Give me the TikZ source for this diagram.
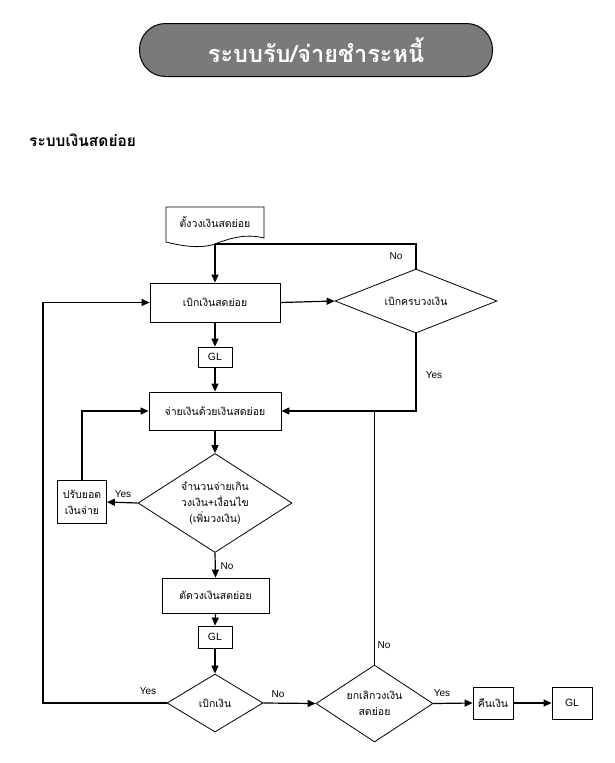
\documentclass[tikz,border=0pt]{standalone}
\usepackage{fontspec}
\setmainfont{Liberation Sans}
\newfontfamily\thai[Script=Thai]{Loma}
\usetikzlibrary{shapes.geometric,arrows.meta}
\begin{document}
\begin{tikzpicture}[x=1pt,y=-1pt,
  shp/.style={draw=black,line width=0.8pt,inner sep=1pt,align=center,font=\thai\fontsize{10.5}{16}\selectfont},
  boxn/.style={shp,rectangle},
  dia/.style={shp,diamond,inner sep=0pt},
  conn/.style={line width=1.2pt},
  arr/.style={conn,-{Triangle[length=8pt,width=7pt]}},
  lab/.style={font=\fontsize{10}{12}\selectfont,inner sep=1pt},
  glbox/.style={boxn,font=\fontsize{10.5}{12}\selectfont}]
\useasboundingbox (0,0) rectangle (614,763);
\fill[white] (0,0) rectangle (614,763);
% title
\node[draw=black,line width=1pt,fill=black!52,rounded corners=26pt,minimum width=353pt,minimum height=53pt,text=white,font=\thai\bfseries\fontsize{23.5}{28}\selectfont] (title) at (316,50) {ระบบรับ/จ่ายชำระหนี้};
\node[anchor=west,inner sep=0pt,font=\thai\bfseries\fontsize{15.5}{18}\selectfont] (sub) at (29,140) {ระบบเงินสดย่อย};
% document
\draw[line width=0.8pt] (166,207) -- (264,207) -- (264,238) .. controls (245,233) and (228,239) .. (215,244) .. controls (200,249) and (182,246) .. (166,242) -- cycle;
\node[inner sep=0pt,font=\thai\fontsize{10.5}{12}\selectfont] (doc) at (215,222) {ตั้งวงเงินสดย่อย};
\coordinate (j1) at (215,244);
% nodes
\node[boxn,minimum width=130pt,minimum height=39pt] (b1) at (215,302.5) {เบิกเงินสดย่อย};
\node[dia,shape aspect=2.5,minimum width=162pt,minimum height=64pt] (d1) at (416,301) {เบิกครบวงเงิน};
\node[glbox,minimum width=34pt,minimum height=20pt] (gl1) at (215,357) {GL};
\node[boxn,minimum width=132pt,minimum height=38pt] (b2) at (215,411) {จ่ายเงินด้วยเงินสดย่อย};
\node[dia,shape aspect=1.55,minimum width=154pt,minimum height=99pt] (d2) at (215,503) {จำนวนจ่ายเกิน\\วงเงิน+เงื่อนไข\\(เพิ่มวงเงิน)};
\node[boxn,minimum width=49pt,minimum height=43pt] (adj) at (82,502) {ปรับยอด\\เงินจ่าย};
\node[boxn,minimum width=107pt,minimum height=35pt] (b3) at (215.5,595.5) {ตัดวงเงินสดย่อย};
\node[glbox,minimum width=34pt,minimum height=22pt] (gl2) at (215,637) {GL};
\node[dia,shape aspect=1.65,minimum width=96pt,minimum height=58pt] (d3) at (215,703) {เบิกเงิน};
\node[dia,shape aspect=1.52,minimum width=117pt,minimum height=77pt] (d4) at (374.5,703.5) {ยกเลิกวงเงิน\\สดย่อย};
\node[boxn,minimum width=40pt,minimum height=32pt] (ret) at (493,703) {คืนเงิน};
\node[glbox,minimum width=40pt,minimum height=32pt] (gl3) at (572,703) {GL};
\coordinate (j2) at (374.5,411);
\coordinate (lx) at (43,703);
% connectors
\draw[arr] (j1) -- (b1.north);
\draw[conn] (d1.north) |- (j1);
\node[lab] (no1) at (396,256) {No};
\draw[arr] (b1.east) -- (d1.west);
\draw[arr] (b1.south) -- (gl1.north);
\draw[arr] (gl1.south) -- (b2.north);
\draw[arr] (d1.south) |- (b2.east);
\node[lab] (yes1) at (434,375) {Yes};
\draw[arr] (b2.south) -- (d2.north);
\draw[arr] (d2.west) -- (adj.east);
\node[lab] (yes2) at (123,494) {Yes};
\draw[arr] (adj.north) |- (b2.west);
\draw[arr] (d2.south) -- (b3.north);
\node[lab] (no2) at (227,566) {No};
\draw[arr] (b3.south) -- (gl2.north);
\draw[arr] (gl2.south) -- (d3.north);
\draw[arr] (d3.west) -- (lx) |- (b1.west);
\node[lab] (yes3) at (148,691) {Yes};
\draw[arr] (d3.east) -- (d4.west);
\node[lab] (no3) at (278,694) {No};
\draw[conn] (d4.north) -- (j2);
\node[lab] (no4) at (384,645) {No};
\draw[arr] (d4.east) -- (ret.west);
\node[lab] (yes4) at (442,693) {Yes};
\draw[arr] (ret.east) -- (gl3.west);
\end{tikzpicture}
\end{document}
